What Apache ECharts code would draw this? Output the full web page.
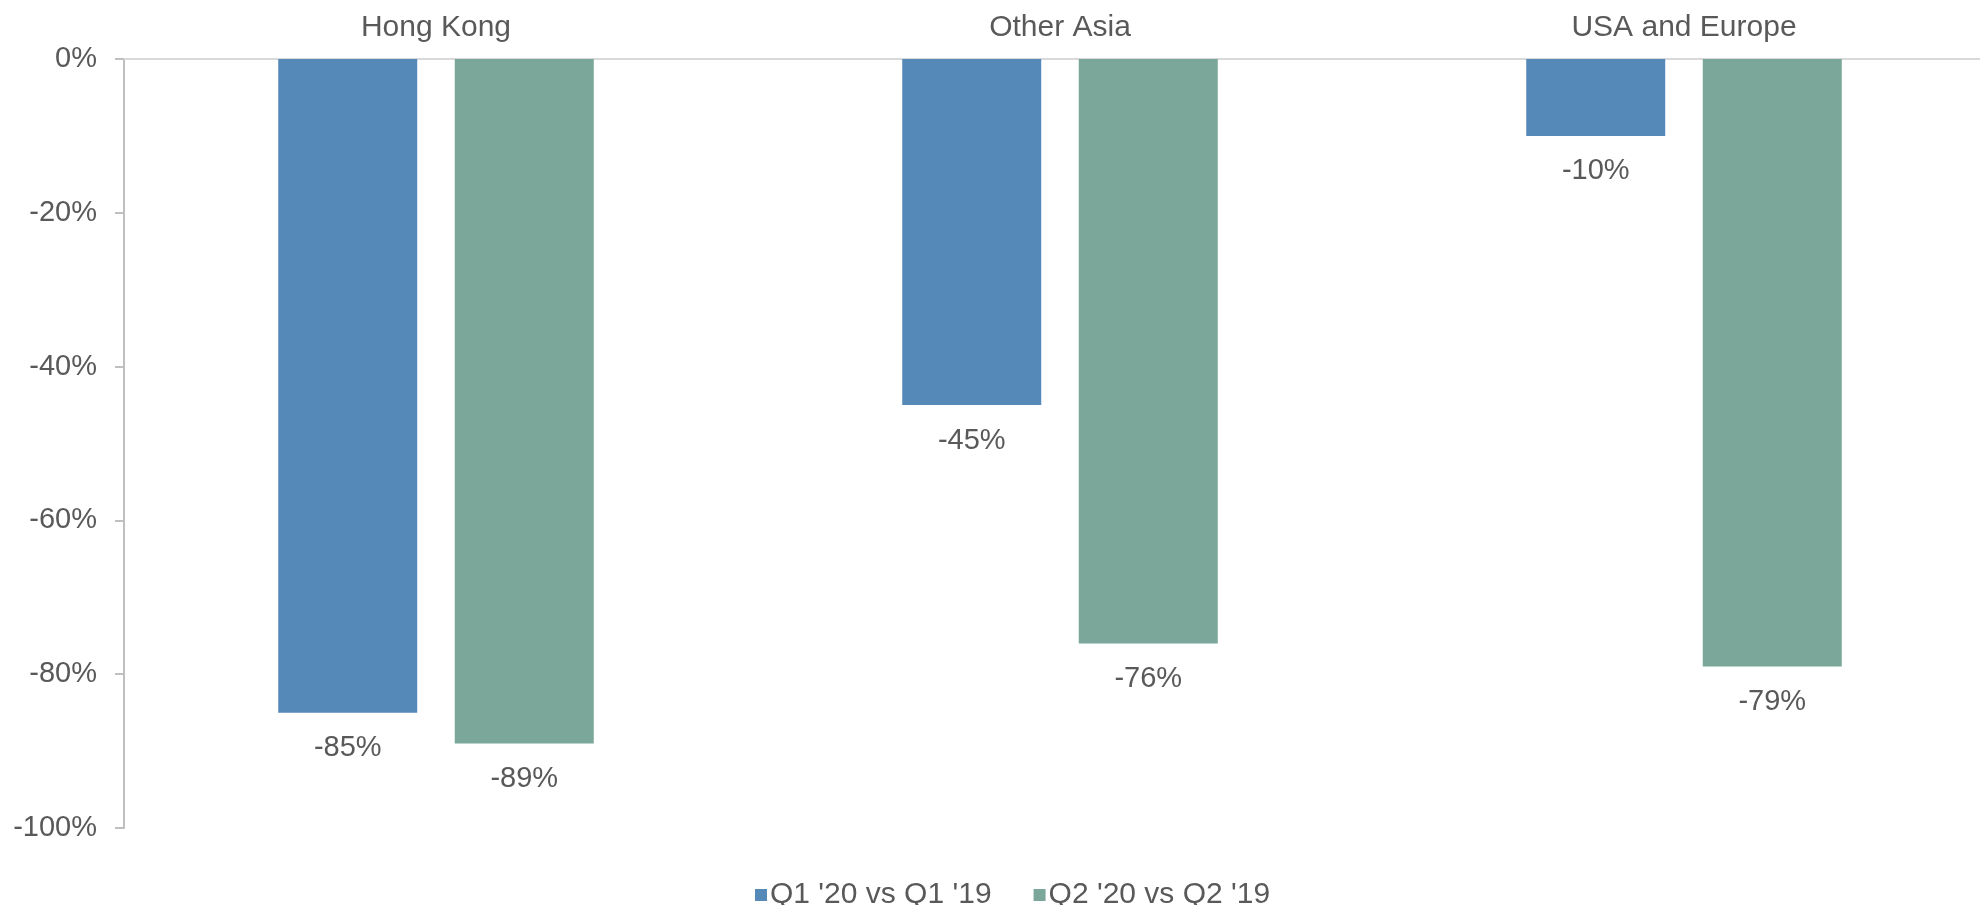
<!DOCTYPE html>
<html>
<head>
<meta charset="utf-8">
<script src="https://cdn.jsdelivr.net/npm/echarts@6/dist/echarts.min.js"></script>
<style>
html, body { margin: 0; padding: 0; background: #fff; }
#box1 { width: 1980px; height: 905px; }
</style>
</head>
<body>
<div id="box1"></div>
<script>
var regions = ['Hong Kong', 'Other Asia', 'USA and Europe'];
var seriesNames = ["Q1 '20 vs Q1 '19", "Q2 '20 vs Q2 '19"];
var q1Values = [-85, -45, -10];
var q2Values = [-89, -76, -79];
var yTicks = { min: -100, max: 0, step: 20 };

var dom = document.getElementById("box1");
var myChart = echarts.init(dom);
var font = 'Liberation Sans, Arial, sans-serif';
var labelBelow = {
    show: true,
    position: 'bottom',
    distance: 21,
    color: '#595959',
    fontSize: 29,
    fontFamily: font,
    formatter: '{c}%'
};
var option = {
    animation: false,
    color: ['#5589b8', '#7ba69a'],
    textStyle: { fontFamily: font },
    grid: { left: 124, width: 1872, top: 59, bottom: 77, outerBoundsMode: 'none' },
    legend: {
        top: 875,
        left: 750,
        itemWidth: 12,
        itemHeight: 12,
        itemGap: 42,
        icon: 'rect',
        textStyle: { color: '#595959', fontSize: 30, fontFamily: font, padding: [0, 0, 0, -2] },
        data: seriesNames
    },
    xAxis: {
        type: 'category',
        position: 'top',
        data: regions,
        axisLine: { lineStyle: { color: '#d9d9d9', width: 2 } },
        axisTick: { show: false },
        axisLabel: { color: '#595959', fontSize: 30, margin: 16 }
    },
    yAxis: {
        type: 'value',
        min: yTicks.min,
        max: yTicks.max,
        interval: yTicks.step,
        axisLine: { show: true, lineStyle: { color: '#bfbfbf', width: 2 } },
        axisTick: { show: true, length: 9, lineStyle: { color: '#bfbfbf', width: 2 } },
        splitLine: { show: false },
        axisLabel: { color: '#595959', fontSize: 29, margin: 27, formatter: '{value}%' }
    },
    series: [
        { name: seriesNames[0], type: 'bar', data: q1Values, barWidth: 139, barGap: '27%', label: labelBelow },
        { name: seriesNames[1], type: 'bar', data: q2Values, barWidth: 139, barGap: '27%', label: labelBelow }
    ]
};
myChart.setOption(option, true);
</script>
</body>
</html>
